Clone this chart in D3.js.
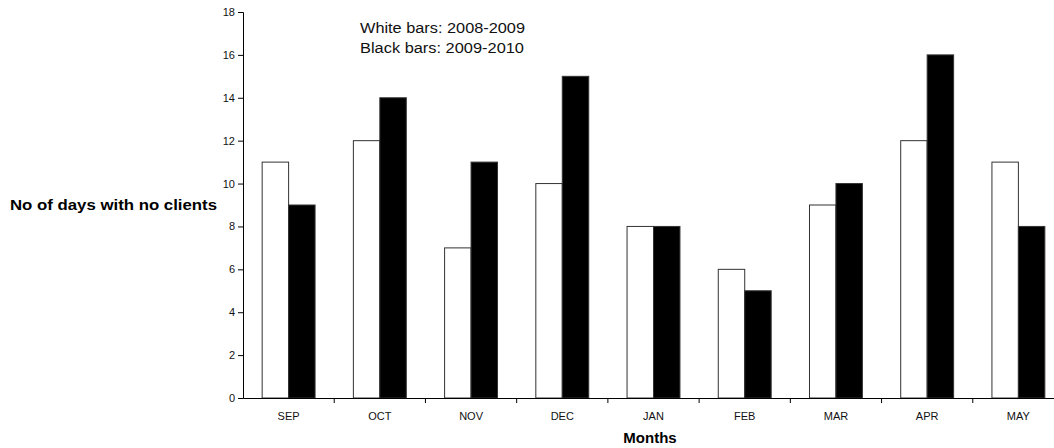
<!DOCTYPE html>
<html>
<head>
<meta charset="utf-8">
<script src="https://cdn.jsdelivr.net/npm/d3@7"></script>
<style>
  body { margin: 0; background: #fff; }
  svg { display: block; font-family: Arial, "Liberation Sans", sans-serif; }
</style>
</head>
<body>
<div id="chart"></div>
<script>
var months = ["SEP", "OCT", "NOV", "DEC", "JAN", "FEB", "MAR", "APR", "MAY"];
var days0809 = [11, 12, 7, 10, 8, 6, 9, 12, 11];   // white bars
var days0910 = [9, 14, 11, 15, 8, 5, 10, 16, 8];   // black bars
var yTicks = [0, 2, 4, 6, 8, 10, 12, 14, 16, 18];

var width = 1054, height = 448;
var margin = { top: 12, right: -10, bottom: 50, left: 243 };
var innerW = width - margin.left - margin.right;
var innerH = height - margin.top - margin.bottom;

var svg = d3.select("#chart").append("svg")
   .attr("width", width)
   .attr("height", height);

var g = svg.append("g")
   .attr("transform", "translate(" + margin.left + "," + margin.top + ")");

var x = d3.scaleBand().domain(months).range([0, innerW]);
var y = d3.scaleLinear().domain([0, 18]).range([innerH, 0]);

// bar offsets inside each band
var barW = x.bandwidth() * 0.29;
var groupOff = (x.bandwidth() - 2 * barW) / 2;

// y axis
var gY = g.append("g")
   .call(d3.axisLeft(y).tickValues(yTicks).tickSize(5).tickPadding(3));
gY.select(".domain").attr("stroke", "#000");
gY.selectAll("text").attr("font-size", 11).attr("font-family", "Arial, 'Liberation Sans', sans-serif").attr("fill", "#111");

// bars
var gb = g.append("g");
gb.selectAll(".white").data(months).enter().append("rect")
   .attr("class", "white")
   .attr("x", function (d) { return x(d) + groupOff; })
   .attr("y", function (d, i) { return y(days0809[i]); })
   .attr("width", barW)
   .attr("height", function (d, i) { return y(0) - y(days0809[i]); })
   .attr("fill", "#fff")
   .attr("stroke", "#333")
   .attr("stroke-width", 1);
gb.selectAll(".black").data(months).enter().append("rect")
   .attr("class", "black")
   .attr("x", function (d) { return x(d) + groupOff + barW; })
   .attr("y", function (d, i) { return y(days0910[i]); })
   .attr("width", barW)
   .attr("height", function (d, i) { return y(0) - y(days0910[i]); })
   .attr("fill", "#000")
   .attr("stroke", "#333")
   .attr("stroke-width", 1);

// x axis (labels centred, ticks between categories)
var gX = g.append("g")
   .attr("transform", "translate(0," + innerH + ")")
   .call(d3.axisBottom(x).tickSize(0).tickPadding(14));
gX.select(".domain").attr("stroke", "#000");
gX.selectAll("text").attr("font-size", 11).attr("font-family", "Arial, 'Liberation Sans', sans-serif").attr("fill", "#111");
gX.selectAll(".sep").data(months).enter().append("line")
   .attr("class", "sep")
   .attr("x1", function (d) { return x(d) + x.step(); })
   .attr("x2", function (d) { return x(d) + x.step(); })
   .attr("y1", 0).attr("y2", 5)
   .attr("stroke", "#000");

// axis titles
svg.append("text")
   .attr("x", 650)
   .attr("y", 443)
   .attr("text-anchor", "middle")
   .attr("font-size", 15).attr("font-weight", "bold")
   .text("Months");
svg.append("text")
   .attr("x", 10)
   .attr("y", 209.5)
   .attr("font-size", 15).attr("font-weight", "bold")
   .attr("textLength", 207).attr("lengthAdjust", "spacingAndGlyphs")
   .text("No of days with no clients");

// legend note
svg.append("text").attr("x", 360).attr("y", 33).attr("font-size", 15.5).attr("fill", "#111")
   .attr("textLength", 165).attr("lengthAdjust", "spacingAndGlyphs")
   .text("White bars: 2008-2009");
svg.append("text").attr("x", 360).attr("y", 52.5).attr("font-size", 15.5).attr("fill", "#111")
   .attr("textLength", 164).attr("lengthAdjust", "spacingAndGlyphs")
   .text("Black bars: 2009-2010");
</script>
</body>
</html>
